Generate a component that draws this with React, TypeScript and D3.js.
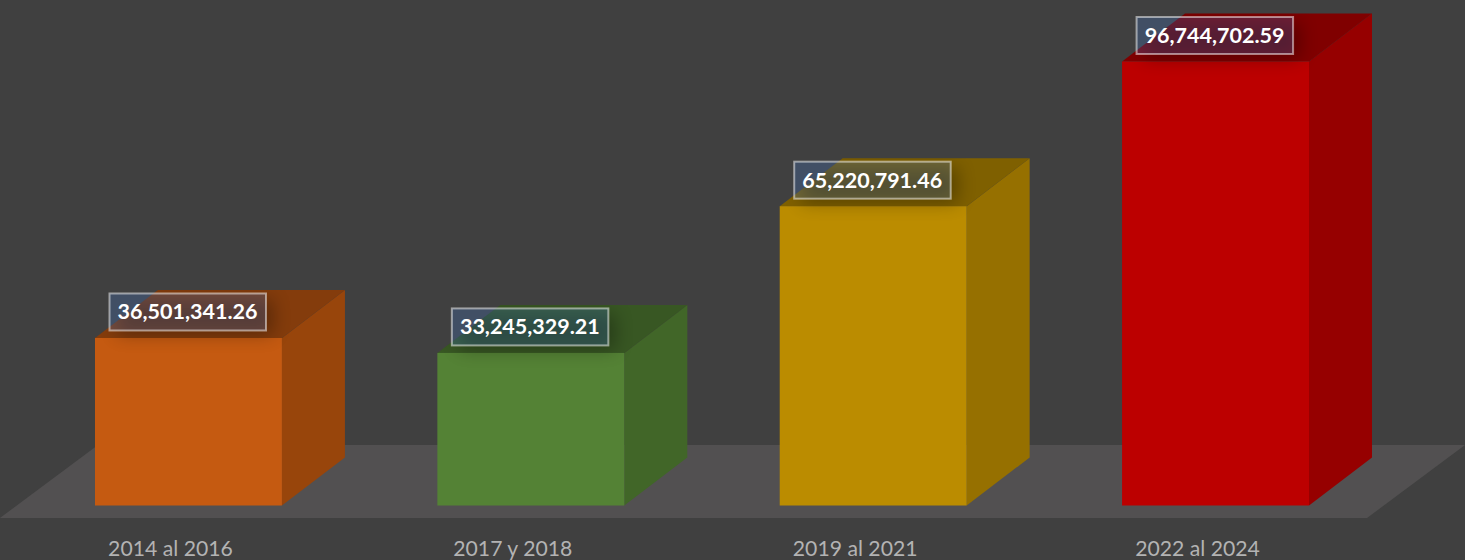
import * as d3 from "d3";

const periods = ["2014 al 2016", "2017 y 2018", "2019 al 2021", "2022 al 2024"];
const totals = [36501341.26, 33245329.21, 65220791.46, 96744702.59];
const frontColors = ["#c55a11", "#548235", "#bb8c00", "#bc0000"];
const sideColors = ["#98450b", "#416628", "#967000", "#960000"];
const topColors = ["#843c0c", "#385723", "#7f6000", "#800000"];

const width = 1465;
const height = 560;
const baseY = 505.5;
const depthX = 63;
const depthY = 48;

const x = d3.scaleBand<string>().domain(periods).range([95, 1309]).paddingInner(0.454).paddingOuter(0);
const y = d3.scaleLinear().domain([0, d3.max(totals)!]).range([baseY, 61.5]);
const fmt = d3.format(",.2f");

const poly = d3.line();

export default function App() {
  const bw = x.bandwidth();
  return (
    <svg
      width={width}
      height={height}
      style={{ position: "absolute", left: 0, top: 0, display: "block" }}
    >
      <defs>
        <filter id="labelShadow" x="-30%" y="-60%" width="160%" height="220%">
          <feGaussianBlur stdDeviation="9" />
        </filter>
      </defs>
      <rect width={width} height={height} fill="#404040" />
      <path
        d={poly([[0, 518], [1367, 518], [1465, 445], [98, 445]])! + "Z"}
        fill="#525051"
      />
      {periods.map((p, i) => {
        const x0 = x(p)!;
        const x1 = x0 + bw;
        const top = y(totals[i]);
        const lx = x0 + 14;
        const ly = top - 45;
        return (
          <g key={p}>
            <path
              d={poly([[x1, top], [x1 + depthX, top - depthY], [x1 + depthX, baseY - depthY], [x1, baseY]])! + "Z"}
              fill={sideColors[i]}
            />
            <path
              d={poly([[x0, top], [x0 + depthX, top - depthY], [x1 + depthX, top - depthY], [x1, top]])! + "Z"}
              fill={topColors[i]}
            />
            <rect x={x0} y={top} width={bw} height={baseY - top} fill={frontColors[i]} />
            <clipPath id={`bar-${i}`}>
              <path
                d={poly([[x0, baseY], [x0, top], [x0 + depthX, top - depthY], [x1 + depthX, top - depthY], [x1 + depthX, baseY - depthY], [x1, baseY]])! + "Z"}
              />
            </clipPath>
            <g clipPath={`url(#bar-${i})`}>
              <rect
                x={lx + 8}
                y={ly + 6}
                width={156}
                height={36}
                fill="#000"
                opacity={0.3}
                filter="url(#labelShadow)"
              />
            </g>
            <rect
              x={lx + 0.5}
              y={ly + 0.5}
              width={156.5}
              height={37}
              fill="#4682e6"
              fillOpacity={0.22}
              stroke="#ffffff"
              strokeOpacity={0.5}
              strokeWidth={2}
            />
            <text
              x={lx + 78.5}
              y={ly + 26.5}
              textAnchor="middle"
              fontFamily="Lato, sans-serif"
              fontWeight={700}
              fontSize={21.5}
              fill="#ffffff"
            >
              {fmt(totals[i])}
            </text>
            <text
              x={x0 + bw / 2 - 18}
              y={556}
              textAnchor="middle"
              fontFamily="Lato, sans-serif"
              fontSize={21.2}
              fill="#b3b3b3"
            >
              {p}
            </text>
          </g>
        );
      })}
    </svg>
  );
}
